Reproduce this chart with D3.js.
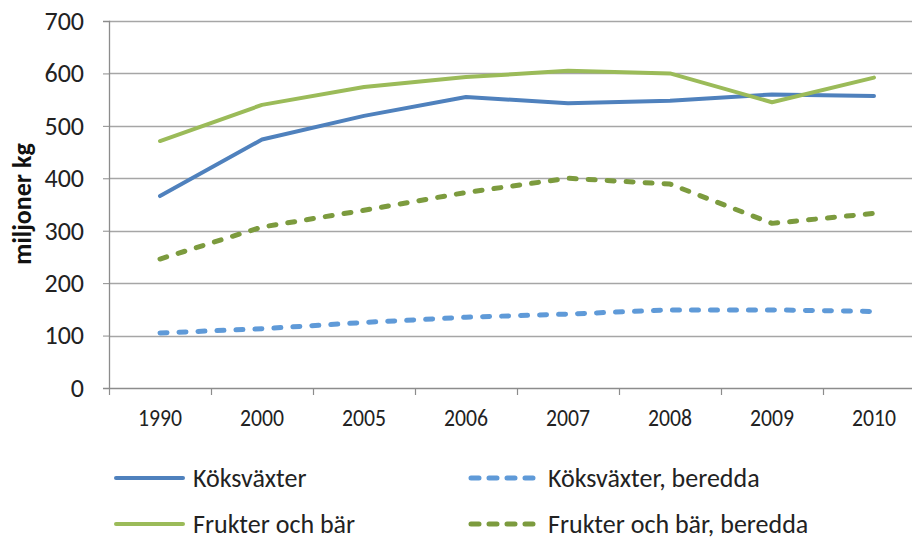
<!DOCTYPE html>
<html>
<head>
<meta charset="utf-8">
<script src="https://cdn.jsdelivr.net/npm/d3@7"></script>
<style>
  body { margin: 0; background: #fff; }
  svg { display: block; }
  .narrow { font-family: "Liberation Sans Narrow", "Carlito", "Open Sans", sans-serif; }
</style>
</head>
<body>
<div class="chart"></div>
<script>
// Data
const years = ["1990", "2000", "2005", "2006", "2007", "2008", "2009", "2010"];
const koksvaxter = [366, 474, 519, 555, 543, 548, 560, 557];
const koksvaxterBeredda = [105, 113, 125, 135, 141, 149, 149, 146];
const frukter = [471, 540, 574, 593, 605, 600, 545, 592];
const frukterBeredda = [246, 307, 339, 373, 400, 389, 314, 333];
const yTicks = [0, 100, 200, 300, 400, 500, 600, 700];

const series = [
  {name: "Köksväxter", values: koksvaxter, color: "#4f81bd", dash: null},
  {name: "Köksväxter, beredda", values: koksvaxterBeredda, color: "#5f9ad8", dash: "7,12"},
  {name: "Frukter och bär", values: frukter, color: "#9bbb59", dash: null},
  {name: "Frukter och bär, beredda", values: frukterBeredda, color: "#7c9b3e", dash: "7,12"}
];

// Layout
const width = 912, height = 540;
const margin = {top: 21, left: 109};
const plotHeight = 367;
const bandW = 102;

const svg = d3.select(".chart").append("svg")
  .attr("width", width)
  .attr("height", height);

const g = svg.append("g")
  .attr("transform", `translate(${margin.left},${margin.top})`);

const xScale = d3.scaleBand().domain(years).range([0, bandW * years.length]);
const yScale = d3.scaleLinear().domain([0, 700]).range([plotHeight, 0]);

// gridlines
g.selectAll(".grid").data(yTicks.filter(d => d > 0)).enter()
  .append("line")
  .attr("x1", 0).attr("x2", bandW * years.length)
  .attr("y1", d => Math.round(yScale(d)) + 0.5)
  .attr("y2", d => Math.round(yScale(d)) + 0.5)
  .attr("stroke", "#a6a6a6")
  .attr("stroke-width", 1.3);

// y axis
const yAxis = d3.axisLeft(yScale).tickValues(yTicks).tickSize(6).tickPadding(19);
const gY = g.append("g").call(yAxis);
gY.select(".domain").attr("stroke", "#8c8c8c").attr("stroke-width", 1.3);
gY.selectAll(".tick line").attr("stroke", "#8c8c8c");
gY.selectAll("text")
  .attr("class", "narrow")
  .attr("font-size", 26)
  .attr("fill", "#222");

// x axis
const xAxis = d3.axisBottom(xScale).tickSize(0).tickPadding(21);
const gX = g.append("g").attr("transform", `translate(0,${plotHeight})`).call(xAxis);
gX.select(".domain").attr("stroke", "#8c8c8c").attr("stroke-width", 1.3);
gX.selectAll("text")
  .attr("class", "narrow")
  .attr("font-size", 24)
  .attr("textLength", 44)
  .attr("lengthAdjust", "spacingAndGlyphs")
  .attr("fill", "#222");
// tick marks between categories
gX.selectAll(".sep").data(d3.range(years.length + 1)).enter()
  .append("line")
  .attr("x1", i => i * bandW + 0.5).attr("x2", i => i * bandW + 0.5)
  .attr("y1", 0).attr("y2", 7)
  .attr("stroke", "#8c8c8c")
  .attr("stroke-width", 1.2);

// y axis label
svg.append("text")
  .attr("class", "narrow")
  .attr("transform", "translate(31,204) rotate(-90)")
  .attr("text-anchor", "middle")
  .attr("font-weight", "bold")
  .attr("font-size", 26)
  .attr("fill", "#111")
  .text("miljoner kg");

// lines
const line = d3.line()
  .x((d, i) => xScale(years[i]) + xScale.bandwidth() / 2)
  .y(d => yScale(d));

g.selectAll(".series").data(series).enter()
  .append("path")
  .attr("d", d => line(d.values))
  .attr("fill", "none")
  .attr("stroke", d => d.color)
  .attr("stroke-width", d => d.dash ? 5 : 4)
  .attr("stroke-dasharray", d => d.dash)
  .attr("stroke-linecap", "round")
  .attr("stroke-linejoin", "round");

// legend
const legendPos = [
  {x: 113, y: 478}, {x: 468, y: 478},
  {x: 113, y: 524}, {x: 468, y: 524}
];
const legend = svg.selectAll(".legend").data(series).enter()
  .append("g")
  .attr("transform", (d, i) => `translate(${legendPos[i].x},${legendPos[i].y})`);
legend.append("line")
  .attr("x1", 3).attr("x2", 70)
  .attr("y1", 0).attr("y2", 0)
  .attr("stroke", d => d.color)
  .attr("stroke-width", d => d.dash ? 5 : 4)
  .attr("stroke-dasharray", d => d.dash ? "8,10" : null)
  .attr("stroke-linecap", "round");
legend.append("text")
  .attr("class", "narrow")
  .attr("x", 80)
  .attr("y", 9)
  .attr("font-size", 26)
  .attr("fill", "#222")
  .text(d => d.name);
</script>
</body>
</html>
